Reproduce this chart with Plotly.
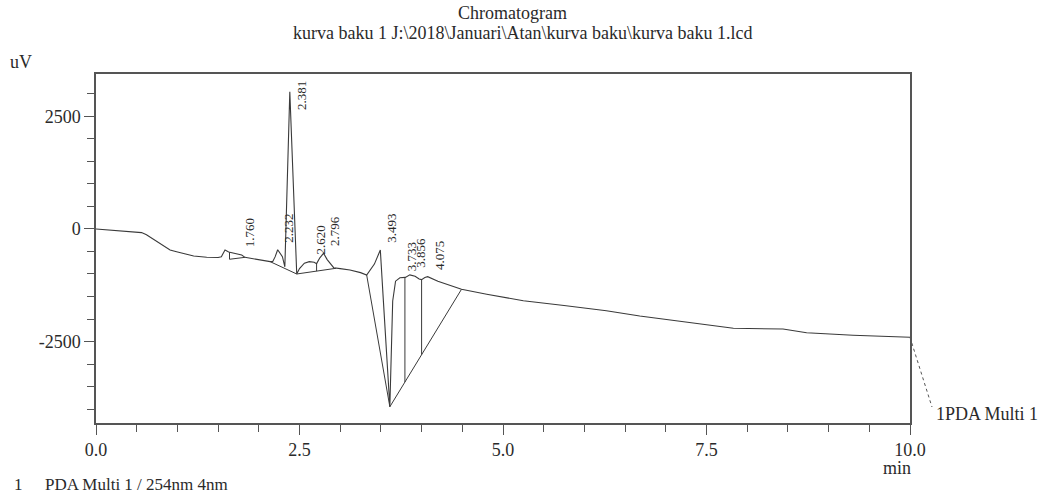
import numpy as np
import plotly.graph_objects as go

# Detector trace (retention time in min, signal in uV)
signal_time = [0.00, 0.25, 0.50, 0.56, 0.62, 0.75, 0.91, 0.99, 1.20, 1.36, 1.50,
               1.54, 1.585, 1.63, 1.70, 1.79, 1.83, 1.89, 2.00, 2.14, 2.17, 2.20,
               2.232, 2.29, 2.32, 2.381, 2.466, 2.50, 2.56, 2.62, 2.68, 2.71, 2.75,
               2.796, 2.84, 2.92, 3.00, 3.12, 3.25, 3.325, 3.42, 3.493, 3.53, 3.61,
               3.645, 3.68, 3.733, 3.80, 3.856, 3.92, 3.97, 4.00, 4.04, 4.075, 4.20,
               4.35, 4.49, 4.80, 5.25, 5.75, 6.27, 6.68, 7.20, 7.83, 8.44, 8.73,
               9.30, 10.00]
signal_uv = [0, -30, -60, -80, -130, -290, -467, -504, -600, -629, -632,
             -615, -467, -510, -540, -580, -630, -651, -690, -726, -726, -620,
             -460, -615, -840, 3050, -1000, -880, -760, -725, -740, -770, -640,
             -540, -680, -860, -880, -910, -970, -1022, -780, -467, -1580, -3950,
             -1600, -1160, -1085, -1075, -1020, -1050, -1110, -1125, -1080, -1060, -1160,
             -1250, -1340, -1450, -1593, -1700, -1815, -1933, -2060, -2207, -2222, -2304,
             -2360, -2407]

# Integration baselines as (start time, start uV, end time, end uV)
baseline_segments = [
    (1.64, -673, 1.83, -630),
    (2.14, -726, 2.466, -1000),
    (2.466, -1000, 2.95, -873),
    (3.325, -1022, 3.61, -3950),
    (3.61, -3950, 4.49, -1340),
]

# Peak split positions (drop lines from trace to baseline)
drop_times = [1.64, 2.71, 3.795, 4.00]

# Retention times of labelled peaks
peak_times = [1.760, 2.232, 2.381, 2.620, 2.796, 3.493, 3.733, 3.856, 4.075]

X_RANGE = [0.0, 10.0]
Y_RANGE = [-4311, 3444]
FONT = "Liberation Serif"
INK = "#2a2a2a"
LINE = "#3a3a3a"
FRAME = "#555555"


def baseline_at(t):
    for t0, v0, t1, v1 in baseline_segments:
        if t0 <= t <= t1:
            return v0 + (v1 - v0) * (t - t0) / (t1 - t0)
    return None


fig = go.Figure()

fig.add_trace(go.Scatter(x=signal_time, y=signal_uv, mode="lines",
                         line=dict(color=LINE, width=1.1), hoverinfo="skip",
                         showlegend=False))

for t0, v0, t1, v1 in baseline_segments:
    fig.add_trace(go.Scatter(x=[t0, t1], y=[v0, v1], mode="lines",
                             line=dict(color=LINE, width=1.0), hoverinfo="skip",
                             showlegend=False))

for t in drop_times:
    top = float(np.interp(t, signal_time, signal_uv))
    bottom = baseline_at(t)
    fig.add_trace(go.Scatter(x=[t, t], y=[top, bottom], mode="lines",
                             line=dict(color=LINE, width=1.0), hoverinfo="skip",
                             showlegend=False))

# Retention-time labels, rotated, just right of each apex
label_ceiling = Y_RANGE[1] - 950
for t in peak_times:
    h = float(np.interp(t, signal_time, signal_uv))
    fig.add_annotation(x=t, y=min(h, label_ceiling), text=f"{t:.3f}",
                       textangle=-90, showarrow=False, xanchor="center",
                       yanchor="bottom", xshift=11, yshift=5,
                       font=dict(family=FONT, size=13, color=INK))

axis_common = dict(showgrid=False, zeroline=False, showline=True, mirror=True,
                   linecolor=FRAME, linewidth=1.5, ticks="outside", ticklen=10,
                   tickwidth=1.3, tickcolor=FRAME,
                   tickfont=dict(family=FONT, size=18, color=INK))

fig.update_xaxes(range=X_RANGE, tickvals=[0, 2.5, 5, 7.5, 10],
                 ticktext=["0.0", "2.5", "5.0", "7.5", "10.0"],
                 minor=dict(dtick=0.5, tick0=0, ticklen=7, ticks="outside",
                            tickcolor=FRAME, tickwidth=1.2),
                 **axis_common)
fig.update_yaxes(range=Y_RANGE, tickvals=[-2500, 0, 2500],
                 ticktext=["-2500", "0", "2500"],
                 minor=dict(dtick=500, tick0=0, ticklen=7, ticks="outside",
                            tickcolor=FRAME, tickwidth=1.2),
                 **axis_common)

L, R, T, B = 96, 135, 74, 72
W, H = 1045, 495
pw, ph = W - L - R, H - T - B


def px(xp):
    return (xp - L) / pw


def py(yp):
    return (H - B - yp) / ph


def text(xp, yp, s, size=18, anchor="center"):
    fig.add_annotation(x=px(xp), y=py(yp), xref="paper", yref="paper", text=s,
                       showarrow=False, xanchor=anchor, yanchor="middle",
                       font=dict(family=FONT, size=size, color=INK))


text(512, 13, "Chromatogram", 18)
text(522, 33, "kurva baku 1 J:\\2018\\Januari\\Atan\\kurva baku\\kurva baku 1.lcd", 18)
text(21, 62, "uV", 18)
text(897, 468, "min", 18)
text(12, 484, "1", 17, "left")
text(43, 484, "PDA Multi 1 / 254nm 4nm", 17, "left")
text(934, 414, "1PDA Multi 1", 18, "left")

# Dashed leader from the trace end to the channel label
end_frac = (signal_uv[-1] - Y_RANGE[0]) / (Y_RANGE[1] - Y_RANGE[0])
fig.add_shape(type="line", xref="paper", yref="paper", x0=1.0, y0=end_frac,
              x1=px(932), y1=py(407), line=dict(color=FRAME, width=1, dash="dot"))

fig.update_layout(width=W, height=H, margin=dict(l=L, r=R, t=T, b=B),
                  paper_bgcolor="white", plot_bgcolor="white", showlegend=False)

fig.write_html("out.html")
